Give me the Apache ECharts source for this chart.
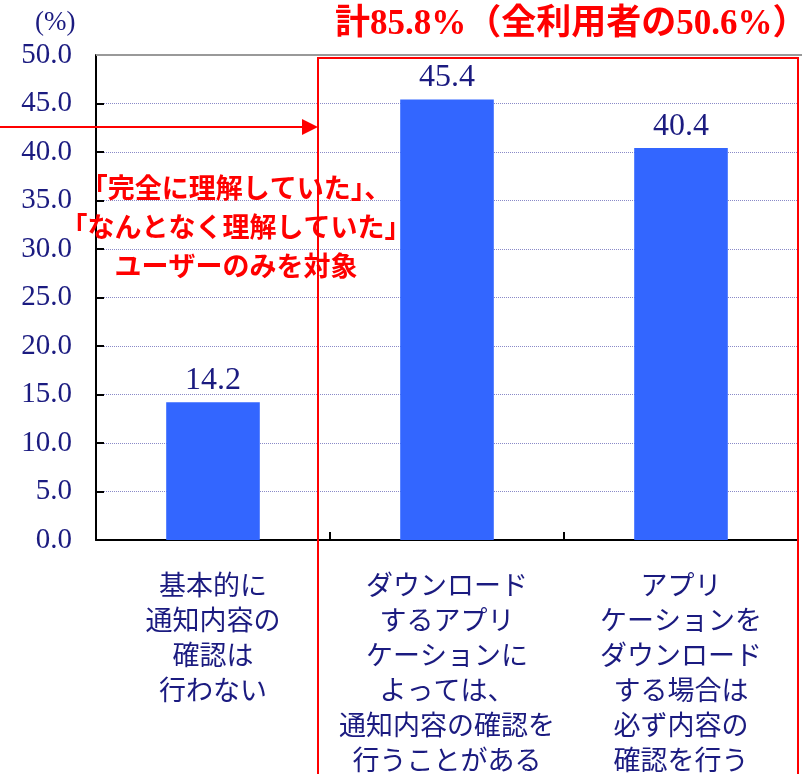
<!DOCTYPE html>
<html>
<head>
<meta charset="utf-8">
<script src="https://cdn.jsdelivr.net/npm/echarts@6/dist/echarts.min.js"></script>
<style>
  html, body { margin: 0; padding: 0; background: #fff; }
  #chart { width: 802px; height: 774px; }
</style>
</head>
<body>
<div id="chart"></div>
<script>
// カテゴリと値
const categories = [
  "基本的に\n通知内容の\n確認は\n行わない",
  "ダウンロード\nするアプリ\nケーションに\nよっては、\n通知内容の確認を\n行うことがある",
  "アプリ\nケーションを\nダウンロード\nする場合は\n必ず内容の\n確認を行う"
];
const values = [14.2, 45.4, 40.4];
const yTicks = { min: 0, max: 50, interval: 5 };

const navy = "#1b1b80";
const red = "#ff0000";

const chart = echarts.init(document.getElementById("chart"));

const option = {
  animation: false,
  grid: { left: 96, right: 4, top: 55, bottom: 234, outerBoundsMode: "none" },
  xAxis: {
    type: "category",
    data: categories,
    axisLine: { lineStyle: { color: "#000", width: 2 } },
    axisTick: { show: true, inside: true, length: 8, lineStyle: { color: "#000", width: 2 } },
    axisLabel: {
      interval: 0,
      margin: 27,
      color: navy,
      fontFamily: "Noto Sans CJK JP",
      fontSize: 27,
      lineHeight: 35
    }
  },
  yAxis: {
    type: "value",
    min: yTicks.min,
    max: yTicks.max,
    interval: yTicks.interval,
    axisLine: { show: true, lineStyle: { color: "#000", width: 2 } },
    axisTick: { show: true, inside: true, length: 8, lineStyle: { color: "#000", width: 2 } },
    axisLabel: {
      margin: 24,
      color: navy,
      fontFamily: "Liberation Serif",
      fontSize: 29,
      formatter: (v) => v.toFixed(1)
    },
    splitLine: {
      lineStyle: { color: "#8a8ac8", type: "dotted", width: 1 }
    }
  },
  series: [
    {
      type: "bar",
      data: values,
      barWidth: "40%",
      itemStyle: { color: "#3366ff" },
      label: {
        show: true,
        position: "top",
        distance: 6,
        color: navy,
        fontFamily: "Liberation Serif",
        fontSize: 32,
        formatter: (p) => p.value.toFixed(1)
      }
    }
  ],
  graphic: [
    // 上端の灰色線
    { type: "line", shape: { x1: 96, y1: 55, x2: 802, y2: 55 }, style: { stroke: "#999", lineWidth: 2 }, z: 5 },
    // 単位
    { type: "text", x: 35, y: 9, style: { text: "(%)", fill: navy, font: "27px 'Liberation Serif'" } },
    // タイトル
    {
      type: "text", x: 335, y: 7,
      style: {
        text: "計85.8%（全利用者の50.6%）",
        fill: red,
        font: "bold 35px 'Liberation Serif', 'Noto Sans CJK JP'"
      }
    },
    // 赤枠
    { type: "rect", shape: { x: 318, y: 58, width: 480, height: 730 }, style: { fill: "none", stroke: red, lineWidth: 2 }, z: 10 },
    // 矢印
    { type: "line", shape: { x1: 0, y1: 127, x2: 305, y2: 127 }, style: { stroke: red, lineWidth: 2 }, z: 10 },
    { type: "polygon", shape: { points: [[302, 119], [318, 127], [302, 135]] }, style: { fill: red }, z: 10 },
    // 注記
    {
      type: "text", x: 236, y: 168, z: 11,
      style: {
        text: "「完全に理解していた」、\n「なんとなく理解していた」\nユーザーのみを対象",
        fill: red,
        align: "center",
        font: "bold 27px 'Noto Sans CJK JP'",
        lineHeight: 39
      }
    }
  ]
};

chart.setOption(option);
</script>
</body>
</html>
